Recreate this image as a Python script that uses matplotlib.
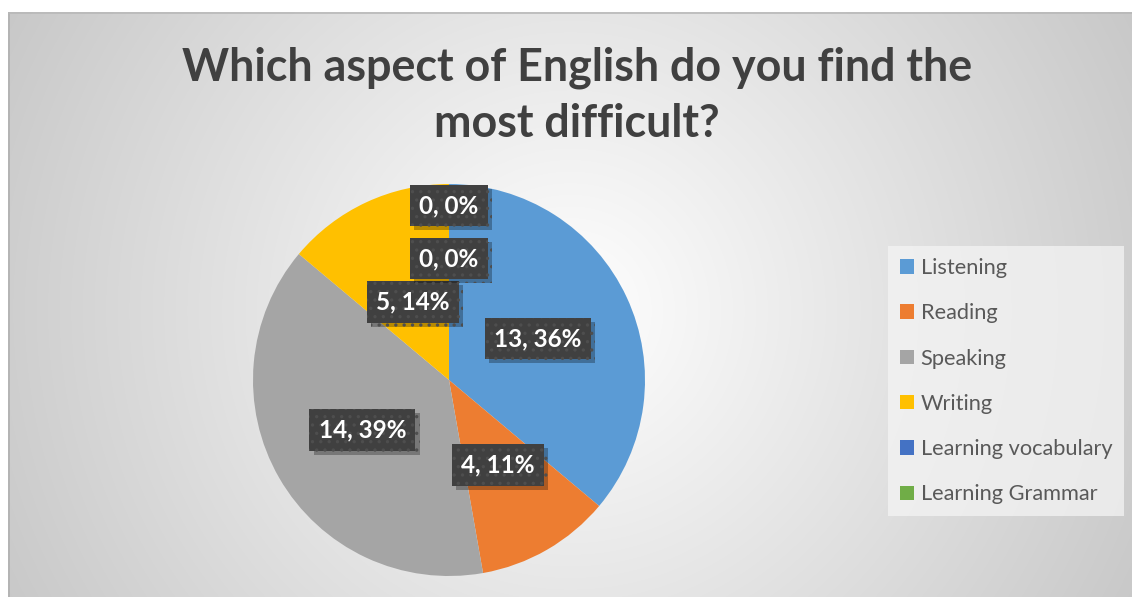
import numpy as np
import matplotlib
matplotlib.use("Agg")
import matplotlib.pyplot as plt
import matplotlib.patheffects as pe

# Survey answers
categories = ["Listening", "Reading", "Speaking", "Writing",
              "Learning vocabulary", "Learning Grammar"]
counts = [13, 4, 14, 5, 0, 0]
colors = ["#5B9BD5", "#ED7D31", "#A5A5A5", "#FFC000", "#4472C4", "#70AD47"]
title = "Which aspect of English do you find the\nmost difficult?"

# radial placement of each data label (fraction of the radius)
label_radius = [0.50, 0.50, 0.51, 0.44, 0.62, 0.89]

W, H = 1132, 597
fig = plt.figure(figsize=(W / 100, H / 100), dpi=100, facecolor="white")
plt.rcParams["font.family"] = ["Lato", "DejaVu Sans"]
plt.rcParams["hatch.linewidth"] = 1.2

# chart area with a radial gradient fill
x0, y0 = 8, 12
bg = fig.add_axes([x0 / W, 0, 1 - x0 / W, (H - y0) / H])
bw, bh = W - x0, H - y0
yy, xx = np.mgrid[0:bh, 0:bw]
cx, cy = bw / 2, bh / 2 + 6
d = np.hypot(xx - cx, yy - cy) / np.hypot(cx, cy)
shade = 1.0 - 0.215 * np.clip(d, 0, 1.05)
bg.imshow(np.dstack([shade] * 3), extent=(0, bw, bh, 0), aspect="auto",
          interpolation="bilinear")
bg.set_xlim(0, bw)
bg.set_ylim(bh, 0)
bg.axis("off")
bg.plot([0.5, 0.5], [bh, 0.5], color="#b0b0b0", lw=1.2)
bg.plot([0.5, bw], [0.5, 0.5], color="#b8b8b8", lw=1.2)

fig.text(577 / W, 1 - 96 / H, title, ha="center", va="center",
         fontsize=32.3, fontweight="bold", color="#404040", linespacing=1.42)

# pie
pcx, pcy, r = 449, 380, 196
ax = fig.add_axes([(pcx - r) / W, (H - pcy - r) / H, 2 * r / W, 2 * r / H])
wedges, _ = ax.pie(counts, colors=colors, startangle=90, counterclock=False,
                   radius=1.0, wedgeprops=dict(linewidth=0))
ax.set_xlim(-1, 1)
ax.set_ylim(-1, 1)
ax.set_aspect("auto")
ax.axis("off")

total = sum(counts)
for w, n, rf in zip(wedges, counts, label_radius):
    mid = np.deg2rad((w.theta1 + w.theta2) / 2)
    px, py = rf * np.cos(mid), rf * np.sin(mid)
    txt = f"{n}, {round(100 * n / total)}%"
    t = ax.annotate(txt, (px, py), ha="center", va="center", fontsize=17.5,
                    fontweight="bold", color="white",
                    bbox=dict(boxstyle="square,pad=0.38", fc="#404040",
                              ec="#4e4e4e", lw=0, hatch=".."))
    t.get_bbox_patch().set_path_effects(
        [pe.SimplePatchShadow(offset=(3, -3), shadow_rgbFace="black",
                              alpha=0.28), pe.Normal()])

leg = fig.legend(wedges, categories, loc="upper left",
                 bbox_to_anchor=(888 / W, 1 - 246 / H), borderaxespad=0,
                 frameon=True, fontsize=15.7, labelcolor="#595959",
                 handlelength=0.65, handleheight=0.65, handletextpad=0.3,
                 labelspacing=1.16, borderpad=0.55, fancybox=False)
fr = leg.get_frame()
fr.set_facecolor("#f4f4f4")
fr.set_alpha(0.75)
fr.set_edgecolor("none")

fig.savefig("out.png", dpi=100, facecolor="white")
